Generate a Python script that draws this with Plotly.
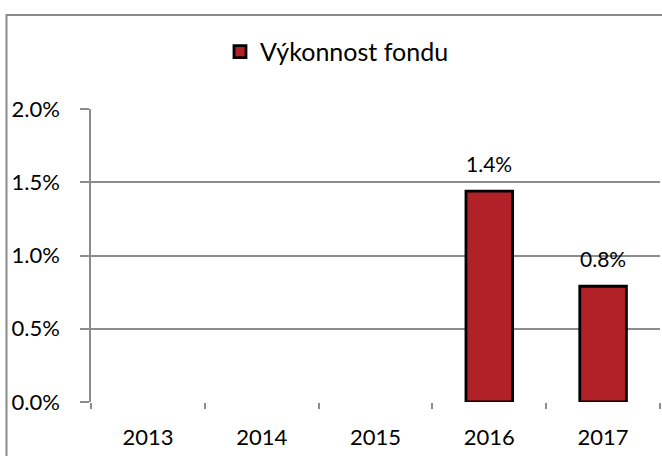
import plotly.graph_objects as go

years = ["2013", "2014", "2015", "2016", "2017"]
performance = [None, None, None, 0.0144, 0.0079]
series_name = "Výkonnost fondu"
label_texts = ["", "", "", "1.4%", "0.8%"]

FONT = "Lato"
GRID = "#8c8c8c"
BAR = "#B22028"

fig = go.Figure()
fig.add_trace(go.Bar(
    x=years, y=performance, name=series_name,
    marker=dict(color=BAR, line=dict(color="black", width=2.8)),
    width=0.41, showlegend=True,
))

for i, (y, t) in enumerate(zip(performance, label_texts)):
    if y is not None:
        fig.add_annotation(x=i, y=y, xref="x", yref="y", text=t, showarrow=False,
                           yanchor="bottom", yshift=13,
                           font=dict(family=FONT, size=21, color="black"))

fig.update_layout(
    width=662, height=456,
    margin=dict(l=91, r=2, t=109, b=54),
    paper_bgcolor="white", plot_bgcolor="white",
    font=dict(family=FONT, size=22, color="black"),
    showlegend=True,
    legend=dict(x=0.2267, y=1.195, xanchor="left", yanchor="middle",
                orientation="h", font=dict(family=FONT, size=25, color="black"),
                bgcolor="rgba(0,0,0,0)"),
    xaxis=dict(type="category", showgrid=False, showline=False,
               ticks="outside", tickson="boundaries", ticklen=6, tickcolor=GRID,
               tickwidth=1.5, ticklabelstandoff=20, range=[-0.5, 4.5]),
    yaxis=dict(range=[0, 0.02], dtick=0.005, tickformat=".1%",
               showgrid=True, gridcolor=GRID, gridwidth=1.5,
               showline=True, linecolor=GRID, linewidth=1.5,
               ticks="outside", ticklen=9, tickcolor=GRID, tickwidth=1.5,
               ticklabelstandoff=16, zeroline=False),
    bargap=0.59,
)

fig.add_shape(type="rect", xref="paper", yref="paper",
              x0=-0.1485, x1=1.02, y0=-0.3, y1=1.3208,
              line=dict(color="#8a8a8a", width=2), fillcolor="rgba(0,0,0,0)", layer="below")

fig.write_html("out.html", config={"displayModeBar": False},
               post_script="document.body.style.margin='0';")
